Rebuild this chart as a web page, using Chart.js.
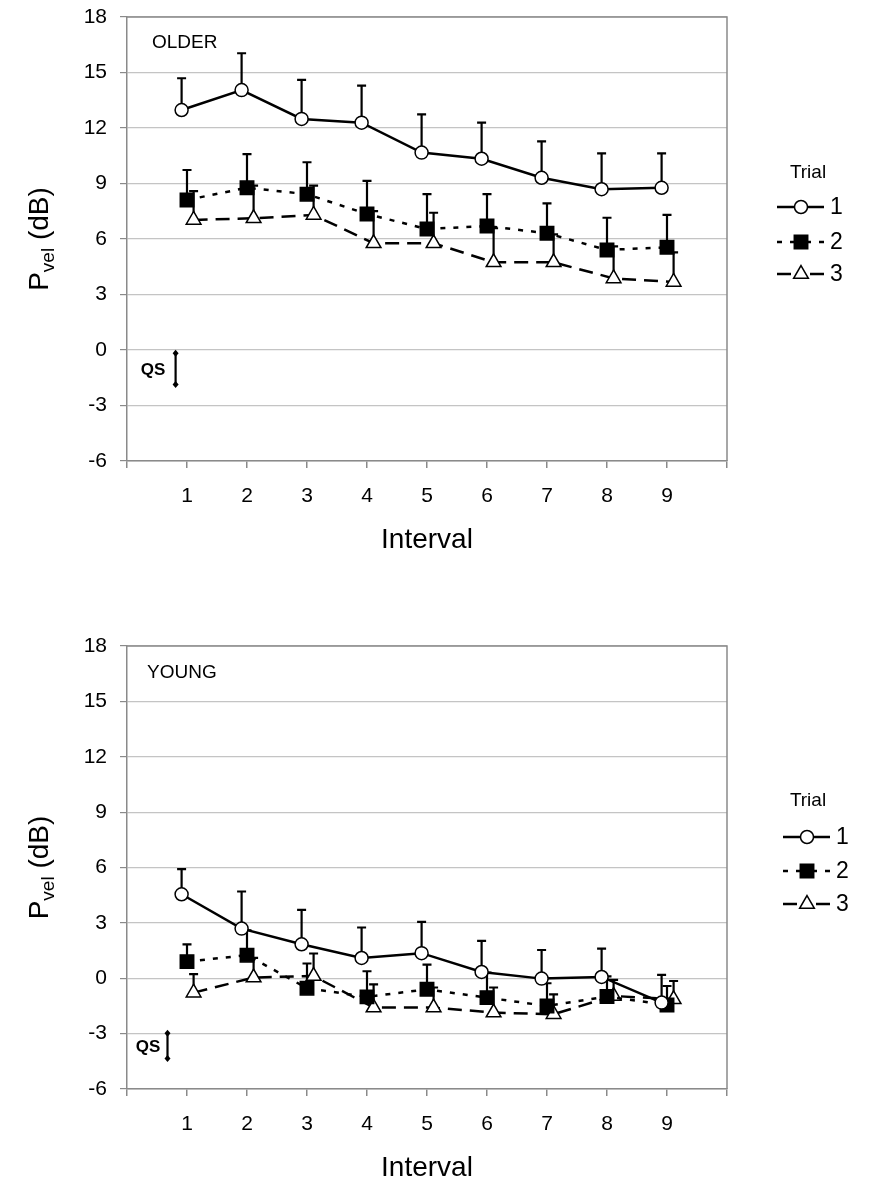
<!DOCTYPE html>
<html><head><meta charset="utf-8">
<script src="https://cdn.jsdelivr.net/npm/chart.js@4/dist/chart.umd.min.js"></script>
<style>
html,body{margin:0;padding:0;background:#fff;}
#wrap{position:relative;width:888px;height:1201px;overflow:hidden;}
canvas{position:absolute;left:0;}
</style></head><body>
<div id="wrap">
<canvas id="c1" width="888" height="609" style="top:-9px"></canvas>
<canvas id="c2" width="888" height="601" style="top:600px"></canvas>
</div>
<script>
// ---------- data ----------
const intervals = [1, 2, 3, 4, 5, 6, 7, 8, 9];
const trialNames = ['1', '2', '3'];
const yTickValues = [-6, -3, 0, 3, 6, 9, 12, 15, 18];
const xTickLabels = ['1', '2', '3', '4', '5', '6', '7', '8', '9'];

// OLDER panel: means and top of error bars
const older1 = [12.97, 14.05, 12.49, 12.29, 10.67, 10.34, 9.31, 8.69, 8.77];
const older1Err = [14.69, 16.04, 14.60, 14.29, 12.74, 12.29, 11.28, 10.63, 10.63];
const older2 = [8.11, 8.77, 8.42, 7.35, 6.54, 6.70, 6.31, 5.41, 5.55];
const older2Err = [9.73, 10.59, 10.15, 9.14, 8.43, 8.43, 7.93, 7.15, 7.30];
const older3 = [7.03, 7.12, 7.30, 5.77, 5.77, 4.74, 4.74, 3.87, 3.68];
const older3Err = [8.59, 8.88, 8.88, 7.51, 7.42, 6.58, 6.25, 5.60, 5.28];
const olderQS = [-0.18, -1.86];   // QS bar ends (dB)

// YOUNG panel
const young1 = [4.55, 2.69, 1.84, 1.10, 1.36, 0.34, -0.02, 0.07, -1.32];
const young1Err = [5.91, 4.70, 3.70, 2.75, 3.05, 2.02, 1.53, 1.61, 0.18];
const young2 = [0.90, 1.25, -0.54, -1.01, -0.60, -1.05, -1.50, -0.99, -1.45];
const young2Err = [1.84, 2.60, 0.80, 0.38, 0.74, 0.30, -0.27, 0.10, -0.42];
const young3 = [-0.78, 0.04, 0.12, -1.59, -1.59, -1.86, -1.95, -0.96, -1.14];
const young3Err = [0.22, 1.10, 1.34, -0.33, -0.50, -0.50, -0.87, -0.09, -0.15];
const youngQS = [-2.98, -4.35];

// ---------- styles ----------
const FONT = '"Liberation Sans", Arial, Helvetica, sans-serif';
const GRID = '#c4c4c4';
const AXIS = '#8a8a8a';
const seriesStyle = [
  { offset: -0.09, pointStyle: 'circle', radius: 6.5, bg: '#ffffff', dash: [] },
  { offset: 0.0, pointStyle: 'rect', radius: 9.5, bg: '#000000', dash: [5, 8] },
  { offset: 0.11, pointStyle: 'triangle', radius: 8.5, bg: '#ffffff', dash: [14, 8] }
];

function makeDatasets(vals, errs) {
  return vals.map((arr, i) => {
    const s = seriesStyle[i];
    return {
      label: trialNames[i],
      data: intervals.map((x, j) => ({ x: x + s.offset, y: arr[j] })),
      errTop: errs[i],
      borderColor: '#000',
      borderWidth: 2.5,
      borderDash: s.dash,
      pointStyle: s.pointStyle,
      pointRadius: s.radius,
      pointBackgroundColor: s.bg,
      pointBorderColor: '#000',
      pointBorderWidth: 1.5,
      pointHoverRadius: s.radius,
      tension: 0,
      fill: false
    };
  });
}

const decorPlugin = {
  id: 'decor',
  beforeDatasetsDraw(chart) {
    const ctx = chart.ctx, ys = chart.scales.y;
    ctx.save();
    ctx.strokeStyle = '#000';
    ctx.lineWidth = 2.2;
    chart.data.datasets.forEach((ds, i) => {
      const meta = chart.getDatasetMeta(i);
      meta.data.forEach((pt, j) => {
        const ey = ys.getPixelForValue(ds.errTop[j]);
        ctx.beginPath();
        ctx.moveTo(pt.x, pt.y);
        ctx.lineTo(pt.x, ey);
        ctx.moveTo(pt.x - 4.5, ey);
        ctx.lineTo(pt.x + 4.5, ey);
        ctx.stroke();
      });
    });
    ctx.restore();
  },
  afterDraw(chart) {
    const o = chart.options.plugins.decor;
    const dy = o.canvasTop;           // page -> canvas conversion
    const ctx = chart.ctx, ca = chart.chartArea;
    const xs = chart.scales.x, ys = chart.scales.y;
    ctx.save();
    // frame (top and right)
    ctx.strokeStyle = AXIS;
    ctx.lineWidth = 1.5;
    ctx.beginPath();
    ctx.moveTo(ca.left, ca.top);
    ctx.lineTo(ca.right, ca.top);
    ctx.lineTo(ca.right, ca.bottom);
    ctx.stroke();

    // panel label
    ctx.fillStyle = '#000';
    ctx.font = '19px ' + FONT;
    ctx.textAlign = 'left';
    ctx.textBaseline = 'middle';
    ctx.fillText(o.panel, o.panelX, o.panelY - dy);

    // QS bar
    const qx = xs.getPixelForValue(o.qsX);
    const q1 = ys.getPixelForValue(o.qs[0]);
    const q2 = ys.getPixelForValue(o.qs[1]);
    ctx.strokeStyle = '#000';
    ctx.lineWidth = 2.2;
    ctx.beginPath();
    ctx.moveTo(qx, q1); ctx.lineTo(qx, q2); ctx.stroke();
    [q1, q2].forEach(qy => {
      ctx.beginPath();
      ctx.moveTo(qx, qy - 3.5); ctx.lineTo(qx + 3, qy); ctx.lineTo(qx, qy + 3.5); ctx.lineTo(qx - 3, qy);
      ctx.closePath(); ctx.fill();
    });
    ctx.font = 'bold 17px ' + FONT;
    ctx.textAlign = 'center';
    ctx.fillText('QS', o.qsLabelX, (q1 + q2) / 2 + 1);

    // y title with subscript
    ctx.save();
    ctx.translate(o.yTitleX, (ca.top + ca.bottom) / 2);
    ctx.rotate(-Math.PI / 2);
    const big = '28px ' + FONT, small = '19px ' + FONT;
    ctx.font = big; const wP = ctx.measureText('P').width; const wR = ctx.measureText(' (dB)').width;
    ctx.font = small; const wV = ctx.measureText('vel').width;
    let tx = -(wP + wV + wR) / 2;
    ctx.textAlign = 'left';
    ctx.textBaseline = 'alphabetic';
    ctx.font = big; ctx.fillText('P', tx, 10); tx += wP;
    ctx.font = small; ctx.fillText('vel', tx, 16); tx += wV;
    ctx.font = big; ctx.fillText(' (dB)', tx, 10);
    ctx.restore();

    // x title
    ctx.font = '28px ' + FONT;
    ctx.textAlign = 'center';
    ctx.textBaseline = 'middle';
    ctx.fillText('Interval', (ca.left + ca.right) / 2, ca.bottom + 79);

    // legend
    const L = o.legend;
    ctx.font = '19px ' + FONT;
    ctx.textAlign = 'center';
    ctx.fillText('Trial', L.titleX, L.titleY - dy);
    chart.data.datasets.forEach((ds, i) => {
      const ry = L.rows[i] - dy;
      ctx.strokeStyle = '#000';
      ctx.lineWidth = 2.5;
      ctx.setLineDash(seriesStyle[i].dash);
      ctx.beginPath();
      ctx.moveTo(L.x1, ry); ctx.lineTo(L.mx, ry);
      ctx.moveTo(L.x2, ry); ctx.lineTo(L.mx, ry);
      ctx.stroke();
      ctx.setLineDash([]);
      ctx.fillStyle = ds.pointBackgroundColor;
      ctx.strokeStyle = '#000';
      ctx.lineWidth = 1.5;
      Chart.helpers.drawPoint(ctx, { pointStyle: ds.pointStyle, radius: ds.pointRadius, rotation: 0, borderWidth: 1.5 }, L.mx, ry);
      ctx.fillStyle = '#000';
      ctx.font = '23px ' + FONT;
      ctx.textAlign = 'left';
      ctx.fillText(ds.label, L.tx, ry + 1);
    });
    ctx.restore();
  }
};

function makeChart(id, vals, errs, cfg) {
  return new Chart(document.getElementById(id), {
    type: 'line',
    data: { datasets: makeDatasets(vals, errs) },
    plugins: [decorPlugin],
    options: {
      responsive: false,
      animation: false,
      devicePixelRatio: 1,
      layout: { padding: { top: cfg.padTop, left: 0, right: 161, bottom: 0 } },
      plugins: {
        legend: { display: false },
        tooltip: { enabled: false },
        decor: cfg
      },
      scales: {
        x: {
          type: 'linear', min: 0, max: 10,
          afterFit: s => { s.height = cfg.xAxisH; },
          afterBuildTicks: s => { s.ticks = [0, ...intervals, 10].map(v => ({ value: v })); },
          ticks: {
            autoSkip: false, maxRotation: 0, padding: 16, color: '#000',
            font: { family: FONT, size: 21 },
            callback: v => (v >= 1 && v <= 9 ? xTickLabels[v - 1] : '')
          },
          grid: { drawOnChartArea: false, drawTicks: true, tickLength: 7, color: AXIS, lineWidth: 1.5 },
          border: { display: true, color: AXIS, width: 1.5 }
        },
        y: {
          type: 'linear', min: -6, max: 18,
          afterFit: s => { s.width = 127; },
          afterBuildTicks: s => { s.ticks = yTickValues.map(v => ({ value: v })); },
          ticks: { padding: 13, color: '#000', font: { family: FONT, size: 21 } },
          grid: { color: GRID, lineWidth: 1.2, drawTicks: true, tickLength: 7, tickColor: AXIS },
          border: { display: true, color: AXIS, width: 1.5 }
        }
      }
    }
  });
}

makeChart('c1', [older1, older2, older3], [older1Err, older2Err, older3Err], {
  canvasTop: -9, padTop: 26, xAxisH: 139,
  panel: 'OLDER', panelX: 152, panelY: 43,
  qs: olderQS, qsX: 0.81, qsLabelX: 153,
  yTitleX: 38,
  legend: { titleX: 808, titleY: 173, rows: [207, 242, 274], x1: 777, x2: 824, mx: 801, tx: 830 }
});

makeChart('c2', [young1, young2, young3], [young1Err, young2Err, young3Err], {
  canvasTop: 600, padTop: 46, xAxisH: 112,
  panel: 'YOUNG', panelX: 147, panelY: 673,
  qs: youngQS, qsX: 0.675, qsLabelX: 148,
  yTitleX: 38,
  legend: { titleX: 808, titleY: 801, rows: [837, 871, 904], x1: 783, x2: 830, mx: 807, tx: 836 }
});
</script>
</body></html>
